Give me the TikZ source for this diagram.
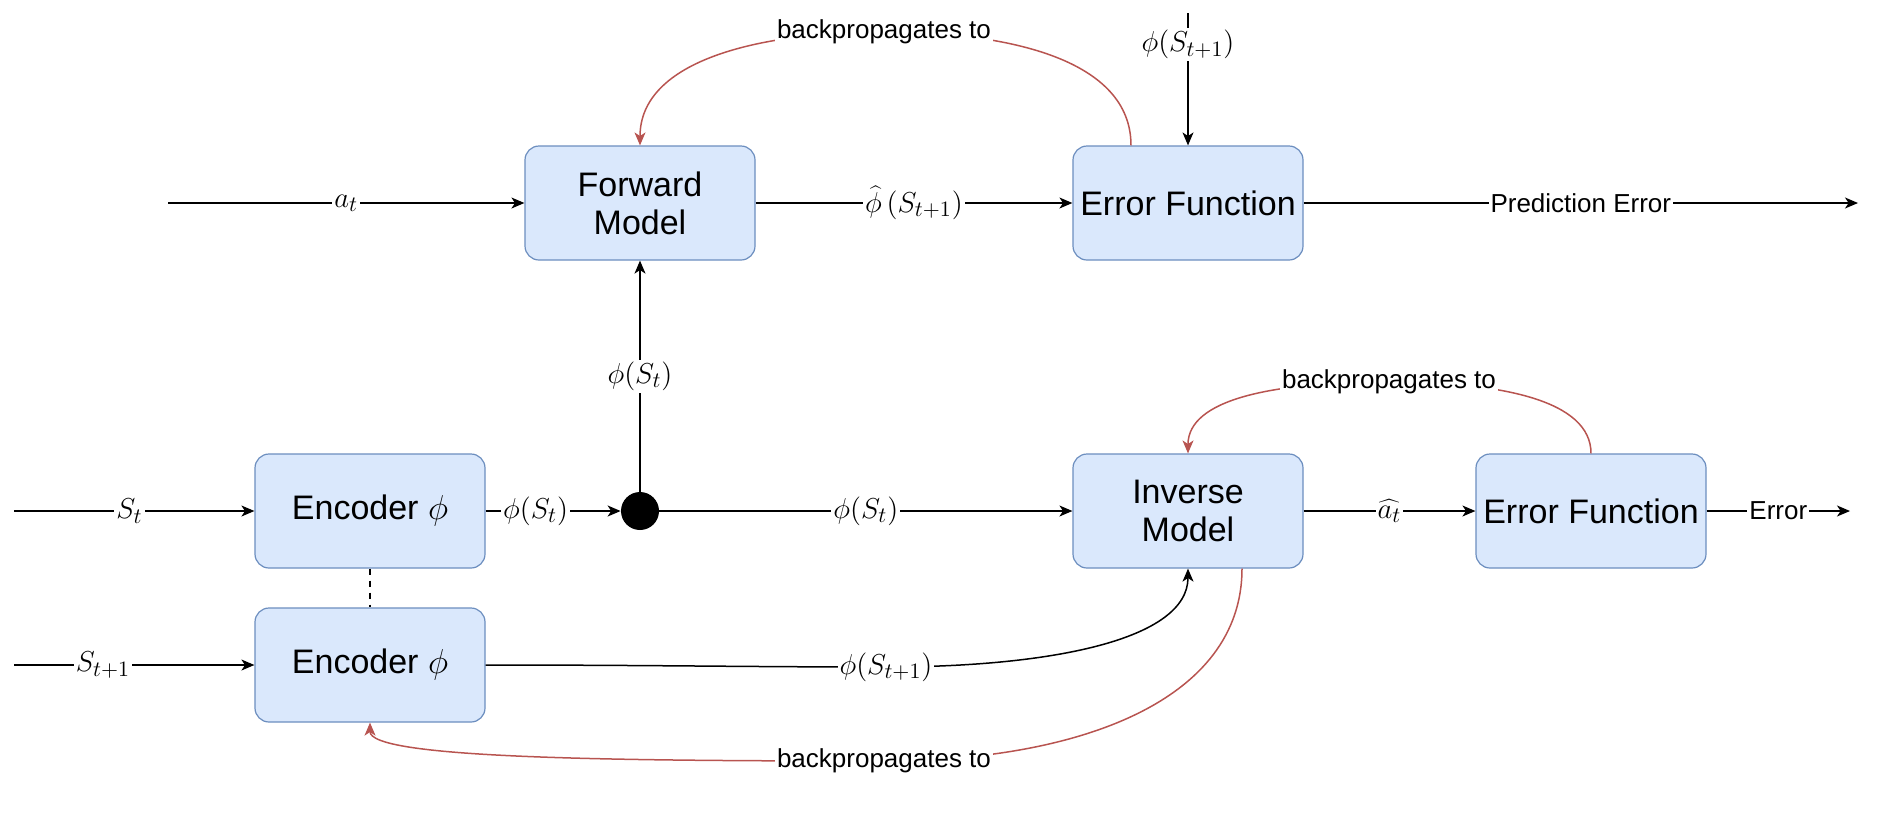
\documentclass[tikz,border=0pt]{standalone}
\usepackage[no-math]{fontspec}
\setmainfont{Liberation Sans}
\usetikzlibrary{arrows.meta}
\definecolor{boxfill}{HTML}{DAE8FC}
\definecolor{boxline}{HTML}{6C8EBF}
\definecolor{bpred}{HTML}{B85450}
\begin{document}
\begin{tikzpicture}[x=0.5pt,y=-0.5pt,
  blk/.style={draw=boxline, fill=boxfill, rounded corners=7pt, minimum width=115pt, minimum height=57pt, align=center, font=\fontsize{17}{19}\selectfont, line width=0.6pt, inner sep=0pt},
  tip/.style={-{Stealth[length=6.5pt,width=5.5pt,inset=1.8pt]}},
  conn/.style={line width=0.75pt, tip},
  plain/.style={line width=0.75pt},
  lbl/.style={fill=white, inner sep=1pt, font=\fontsize{13}{15}\selectfont},
  mlbl/.style={fill=white, inner sep=1pt, font=\fontsize{15}{17}\selectfont},
  bp/.style={draw=bpred, line width=0.75pt},
  bparr/.style={bp, tip}
]
\useasboundingbox (0,0) rectangle (1886,816);

% blocks
\node[blk] (fm) at (640,203) {Forward\\Model};
\node[blk] (ef1) at (1188,203) {Error Function};
\node[blk] (enc1) at (370,511) {Encoder $\phi$};
\node[blk] (enc2) at (370,665) {Encoder $\phi$};
\node[blk] (im) at (1188,511) {Inverse\\Model};
\node[blk] (ef2) at (1591,511) {Error Function};
\node[circle, fill=black, minimum size=19pt, inner sep=0pt] (dot) at (640,511) {};

% free ends
\coordinate (ain) at (168,203);
\coordinate (pout) at (1858,203);
\coordinate (phin) at (1188,13);
\coordinate (sin) at (14,511);
\coordinate (s1in) at (14,665);
\coordinate (eout) at (1850,511);
\coordinate (bp1) at (884,32);
\coordinate (bp2) at (1389,382);
\coordinate (bp3) at (884,761);
\coordinate (lb) at (886,667);

% straight connectors
\draw[conn] (ain) -- node[mlbl]{$a_t$} (fm);
\draw[conn] (fm) -- node[mlbl]{$\widehat{\phi}\,(S_{t+1})$} (ef1);
\draw[conn] (ef1) -- node[lbl]{Prediction Error} (pout);
\draw[conn] (phin) -- node[mlbl, pos=0.24]{$\phi(S_{t+1})$} (ef1);
\draw[conn] (dot) -- node[mlbl]{$\phi(S_t)$} (fm);
\draw[conn] (sin) -- node[mlbl, pos=0.48]{$S_t$} (enc1);
\draw[conn] (s1in) -- node[mlbl, pos=0.37]{$S_{t+1}$} (enc2);
\draw[conn] (enc1) -- node[mlbl, pos=0.37]{$\phi(S_t)$} (dot);
\draw[conn] (dot) -- node[mlbl]{$\phi(S_t)$} (im);
\draw[conn] (im) -- node[mlbl]{$\widehat{a_t}$} (ef2);
\draw[conn] (ef2) -- node[lbl]{Error} (eout);
\draw[plain, dashed, dash pattern=on 3pt off 3pt] (enc1) -- (enc2);

% curved connector
\draw[conn] (enc2.east) .. controls (650,665) and (750,667) .. (lb) .. controls (1050,667) and (1188,640) .. (im.south);
\node[mlbl] at (lb) {$\phi(S_{t+1})$};

% backpropagation curves
\draw[bparr] ([xshift=-28.5pt]ef1.north) .. controls (1131,60) and (1010,32) .. (bp1) .. controls (760,32) and (640,60) .. (fm.north);
\node[lbl] at (bp1) {backpropagates to};

\draw[bparr] (ef2.north) .. controls (1591,400) and (1500,382) .. (bp2) .. controls (1270,382) and (1188,400) .. (im.north);
\node[lbl] at (bp2) {backpropagates to};

\draw[bparr] ([xshift=27pt]im.south) .. controls (1242,700) and (1080,761) .. (bp3) .. controls (600,761) and (370,758) .. (enc2.south);
\node[lbl] at (bp3) {backpropagates to};
\end{tikzpicture}
\end{document}
